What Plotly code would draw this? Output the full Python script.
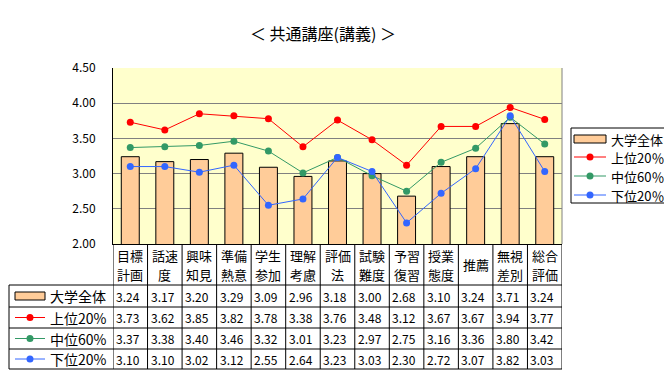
import plotly.graph_objects as go

categories = ["目標<br>計画", "話速<br>度", "興味<br>知見", "準備<br>熱意", "学生<br>参加", "理解<br>考慮",
              "評価<br>法", "試験<br>難度", "予習<br>復習", "授業<br>態度", "推薦", "無視<br>差別", "総合<br>評価"]
series_names = ["大学全体", "上位20%", "中位60%", "下位20%"]
all_univ = [3.24, 3.17, 3.20, 3.29, 3.09, 2.96, 3.18, 3.00, 2.68, 3.10, 3.24, 3.71, 3.24]
top20 = [3.73, 3.62, 3.85, 3.82, 3.78, 3.38, 3.76, 3.48, 3.12, 3.67, 3.67, 3.94, 3.77]
mid60 = [3.37, 3.38, 3.40, 3.46, 3.32, 3.01, 3.23, 2.97, 2.75, 3.16, 3.36, 3.80, 3.42]
low20 = [3.10, 3.10, 3.02, 3.12, 2.55, 2.64, 3.23, 3.03, 2.30, 2.72, 3.07, 3.82, 3.03]
legend_labels = ["大学全体", "上位20％", "中位60％", "下位20％"]
table_labels = ["大学全体", "上位20%", "中位60%", "下位20%"]
title_text = "＜ 共通講座(講義) ＞"

FONT = "Noto Sans CJK JP"
# the page body has an 8px default margin: work in screen pixels and shift
OFF = 8
W, H = 672 - OFF, 380 - OFF
L, R, T, B = 113, 562, 68, 244   # screen pixels of the plot area
colors = ["#FFCC99", "#FF0000", "#339966", "#3366FF"]

def xp(x):
    return (x - L) / (R - L)

def yp(y):
    return (B - y) / (B - T)

n = len(categories)
idx = list(range(n))

fig = go.Figure()
fig.add_trace(go.Bar(x=idx, y=all_univ, name=legend_labels[0], width=0.52,
                     marker=dict(color=colors[0], line=dict(color="black", width=1))))
for vals, name, c in zip([top20, mid60, low20], legend_labels[1:], colors[1:]):
    fig.add_trace(go.Scatter(x=idx, y=vals, name=name, mode="lines+markers",
                             line=dict(color=c, width=1), marker=dict(color=c, size=7)))

shapes = []
annotations = []

def line(x0, y0, x1, y1, color="black", xref="paper"):
    shapes.append(dict(type="line", xref=xref, yref="paper", x0=x0, x1=x1, y0=y0, y1=y1,
                       line=dict(color=color, width=1)))

# plot right border (gray)
line(1, 0, 1, 1, "#808080")

# ---- data table ----
row_lines = [285, 307, 328, 349, 369]
table_left = 9
for y in row_lines:
    line(xp(table_left), yp(y), xp(R), yp(y))
for k in range(n + 1):
    line(k - 0.5, yp(B), k - 0.5, yp(row_lines[-1]), xref="x")
line(xp(table_left), yp(row_lines[0]), xp(table_left), yp(row_lines[-1]))

for k, cat in enumerate(categories):
    parts = cat.split("<br>")
    ys = [264.5] if len(parts) == 1 else [255, 274]
    for part, yy in zip(parts, ys):
        annotations.append(dict(x=k, y=yp(yy), xref="x", yref="paper",
                                text=part, showarrow=False,
                                font=dict(family=FONT, size=13, color="black"),
                                xanchor="center", yanchor="middle"))

def key(xa, xb, yc, r):
    c = colors[r]
    if r == 0:
        shapes.append(dict(type="rect", xref="paper", yref="paper", x0=xp(xa), x1=xp(xb),
                           y0=yp(yc - 4), y1=yp(yc + 4), fillcolor=c,
                           line=dict(color="black", width=1)))
    else:
        line(xp(xa), yp(yc), xp(xb), yp(yc), c)
        xm = (xa + xb) / 2
        shapes.append(dict(type="circle", xref="paper", yref="paper", x0=xp(xm - 3.5), x1=xp(xm + 3.5),
                           y0=yp(yc - 3.5), y1=yp(yc + 3.5), fillcolor=c, line=dict(color=c, width=0)))

rows = [all_univ, top20, mid60, low20]
for r, (vals, lab) in enumerate(zip(rows, table_labels)):
    yc = (row_lines[r] + row_lines[r + 1]) / 2
    for k, v in enumerate(vals):
        annotations.append(dict(x=k - 0.5, y=yp(yc), xref="x", yref="paper", text=f"{v:.2f}",
                                showarrow=False, xanchor="left", yanchor="middle", xshift=1,
                                font=dict(family=FONT, size=12, color="black")))
    annotations.append(dict(x=xp(48), y=yp(yc), xref="paper", yref="paper", text=lab,
                            showarrow=False, xanchor="left", yanchor="middle",
                            font=dict(family=FONT, size=14, color="black")))
    key(15, 45, yc, r)

# ---- legend box (right) ----
shapes.append(dict(type="rect", xref="paper", yref="paper", x0=xp(571), x1=xp(665),
                   y0=yp(128), y1=yp(203), fillcolor="white", line=dict(color="black", width=1)))
leg_y = [139, 157, 176, 195]
for r, (lab, yc) in enumerate(zip(legend_labels, leg_y)):
    key(574, 606, yc, r)
    annotations.append(dict(x=xp(609), y=yp(yc), xref="paper", yref="paper", text=lab,
                            showarrow=False, xanchor="left", yanchor="middle",
                            font=dict(family=FONT, size=13, color="black")))

annotations.append(dict(x=xp(323), y=yp(33), xref="paper", yref="paper", text=title_text,
                        showarrow=False, xanchor="center", yanchor="middle",
                        font=dict(family=FONT, size=16, color="black")))

fig.update_layout(
    width=W, height=H,
    margin=dict(l=L - OFF, r=W - (R - OFF), t=T - OFF, b=H - (B - OFF), pad=0, autoexpand=False),
    paper_bgcolor="white", plot_bgcolor="#FFFFCC",
    font=dict(family=FONT, size=12, color="black"),
    showlegend=False,
    xaxis=dict(range=[-0.5, n - 0.5], showticklabels=False, showgrid=False, zeroline=False,
               showline=True, linecolor="black", linewidth=1, ticks=""),
    yaxis=dict(range=[2, 4.5], dtick=0.5, tick0=2, tickformat=".2f", showgrid=True,
               gridcolor="#808080", gridwidth=1, zeroline=False, showline=True,
               linecolor="black", linewidth=1, ticks="", ticklabelstandoff=14,
               tickfont=dict(family=FONT, size=12)),
    shapes=shapes, annotations=annotations,
)

fig.write_html("out.html")
